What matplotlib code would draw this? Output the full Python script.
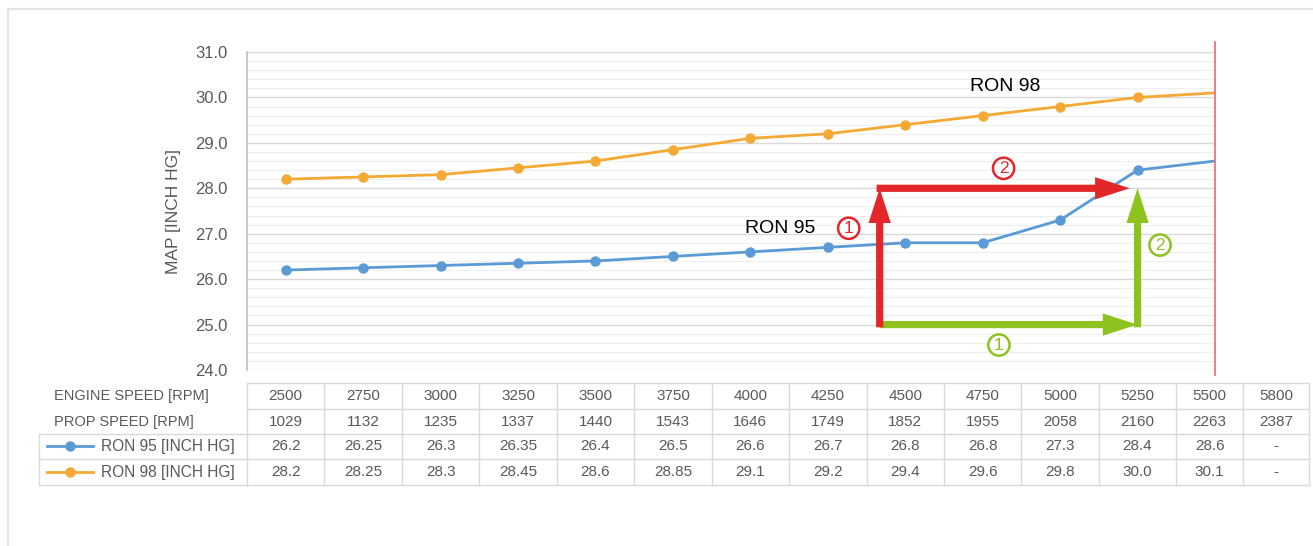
import matplotlib.pyplot as plt
import matplotlib.transforms as mtransforms
from matplotlib.lines import Line2D
import numpy as np

plt.rcParams['font.family'] = ['Liberation Sans', 'DejaVu Sans']

# data from the chart / table
engine_rpm = ['2500', '2750', '3000', '3250', '3500', '3750', '4000', '4250',
              '4500', '4750', '5000', '5250', '5500', '5800']
prop_rpm = ['1029', '1132', '1235', '1337', '1440', '1543', '1646', '1749',
            '1852', '1955', '2058', '2160', '2263', '2387']
ron95 = [26.2, 26.25, 26.3, 26.35, 26.4, 26.5, 26.6, 26.7, 26.8, 26.8, 27.3, 28.4, 28.6]
ron98 = [28.2, 28.25, 28.3, 28.45, 28.6, 28.85, 29.1, 29.2, 29.4, 29.6, 29.8, 30.0, 30.1]
ron95_txt = ['26.2', '26.25', '26.3', '26.35', '26.4', '26.5', '26.6', '26.7',
             '26.8', '26.8', '27.3', '28.4', '28.6', '-']
ron98_txt = ['28.2', '28.25', '28.3', '28.45', '28.6', '28.85', '29.1', '29.2',
             '29.4', '29.6', '29.8', '30.0', '30.1', '-']

BLUE = '#5B9BD5'
ORANGE = '#F5A935'
RED = '#E3262A'
GREEN = '#8DC21F'
TXT = '#595959'
GRID = '#D9D9D9'

fig = plt.figure(figsize=(13.13, 5.46), dpi=100)
ax = fig.add_axes([247/1313, 1-370/546, (1215-247)/1313, 318/546])

x = np.arange(len(ron95))
ax.plot(x, ron95, color=BLUE, lw=2, marker='o', ms=6.5, markevery=range(12))
ax.plot(x, ron98, color=ORANGE, lw=2, marker='o', ms=6.5, markevery=range(12))

ax.set_xlim(-0.5, 12)
ax.set_ylim(24, 31)
ax.set_yticks(np.arange(24, 31.1, 1.0))
ax.set_yticklabels(['%.1f' % v for v in np.arange(24, 31.1, 1.0)])
ax.set_yticks(np.arange(24, 31.01, 0.2), minor=True)
ax.grid(axis='y', which='major', color=GRID, lw=1.0)
ax.grid(axis='y', which='minor', color='#EFEFEF', lw=0.8)
ax.set_xticks([])
ax.tick_params(axis='y', which='both', length=0, colors=TXT, labelsize=12, pad=14)
for s in ['top', 'right', 'bottom']:
    ax.spines[s].set_visible(False)
ax.spines['left'].set_color('#BFBFBF')
ax.spines['left'].set_linewidth(1.2)
ax.set_axisbelow(True)
ax.set_ylabel('MAP [INCH HG]', color=TXT, fontsize=12.5, labelpad=10)

# red limit line
ax.axvline(12, ymin=-0.015, ymax=1.03, color='#E87480', lw=1.3, clip_on=False)

# series labels
ax.text(9.29, 30.23, 'RON 98', fontsize=14, ha='center', va='center', color='black')
ax.text(6.39, 27.12, 'RON 95', fontsize=14, ha='center', va='center', color='black')

# arrows
x0, x1 = 7.67, 11.0
y0, y1 = 25.0, 28.0
astyle = 'simple,head_length=1.25,head_width=0.8,tail_width=0.26'
def arrow(p0, p1, c):
    ax.annotate('', xy=p1, xytext=p0,
                arrowprops=dict(arrowstyle=astyle, color=c, lw=0,
                                shrinkA=0, shrinkB=0, mutation_scale=20))
arrow((x0, y0), (x1, y0), GREEN)
arrow((x1, y0 - 0.06), (x1, y1), GREEN)
arrow((x0, y0 - 0.06), (x0, y1), RED)
arrow((x0 - 0.04, y1), (x1 - 0.1, y1), RED)

def circ(xp, yp, s, c):
    ax.text(xp, yp, s, fontsize=12.5, color=c, ha='center', va='center',
            bbox=dict(boxstyle='circle,pad=0.18', fc='white', ec=c, lw=1.8))
circ(7.27, 27.12, '1', RED)
circ(9.27, 28.44, '2', RED)
circ(9.21, 24.55, '1', GREEN)
circ(11.29, 26.75, '2', GREEN)

# data table below the plot
trans = mtransforms.blended_transform_factory(ax.transData, ax.transAxes)
edges = [i - 0.5 for i in range(13)] + [12.36, 13.22]
row_y = [-0.041, -0.123, -0.201, -0.280, -0.362]
rows = [engine_rpm, prop_rpm, ron95_txt, ron98_txt]
for r, vals in enumerate(rows):
    yc = (row_y[r] + row_y[r + 1]) / 2
    for c, v in enumerate(vals):
        xc = (edges[c] + edges[c + 1]) / 2
        ax.text(xc, yc, v, transform=trans, ha='center', va='center',
                fontsize=11, color=TXT, clip_on=False)

lk = dict(transform=trans, clip_on=False, color=GRID, lw=1.0)
for e in edges:
    ax.add_line(Line2D([e, e], [row_y[0], row_y[-1]], **lk))
for yy in row_y:
    ax.add_line(Line2D([edges[0], edges[-1]], [yy, yy], **lk))
xl = -3.18
for yy in row_y[2:]:
    ax.add_line(Line2D([xl, edges[0]], [yy, yy], **lk))
ax.add_line(Line2D([xl, xl], [row_y[2], row_y[-1]], **lk))

hdr = ['ENGINE SPEED [RPM]', 'PROP SPEED [RPM]']
for r, h in enumerate(hdr):
    yc = (row_y[r] + row_y[r + 1]) / 2
    ax.text(-2.99, yc, h, transform=trans, ha='left', va='center',
            fontsize=10.5, color=TXT, clip_on=False)
for r, (lab, col) in enumerate([('RON 95 [INCH HG]', BLUE), ('RON 98 [INCH HG]', ORANGE)]):
    yc = (row_y[r + 2] + row_y[r + 3]) / 2
    ax.add_line(Line2D([-3.08, -2.49], [yc, yc], transform=trans, clip_on=False,
                       color=col, lw=2))
    ax.add_line(Line2D([-2.79], [yc], transform=trans, clip_on=False,
                       color=col, marker='o', ms=6.5))
    ax.text(-0.66, yc, lab, transform=trans, ha='right', va='center',
            fontsize=11.2, color=TXT, clip_on=False)

# outer chart border (top and left only visible)
fig.add_artist(Line2D([8/1313, 1], [1-9/546, 1-9/546], color='#E3E3E3', lw=1.5))
fig.add_artist(Line2D([8/1313, 8/1313], [0, 1-9/546], color='#E3E3E3', lw=1.5))

fig.savefig('out.png', dpi=100)
